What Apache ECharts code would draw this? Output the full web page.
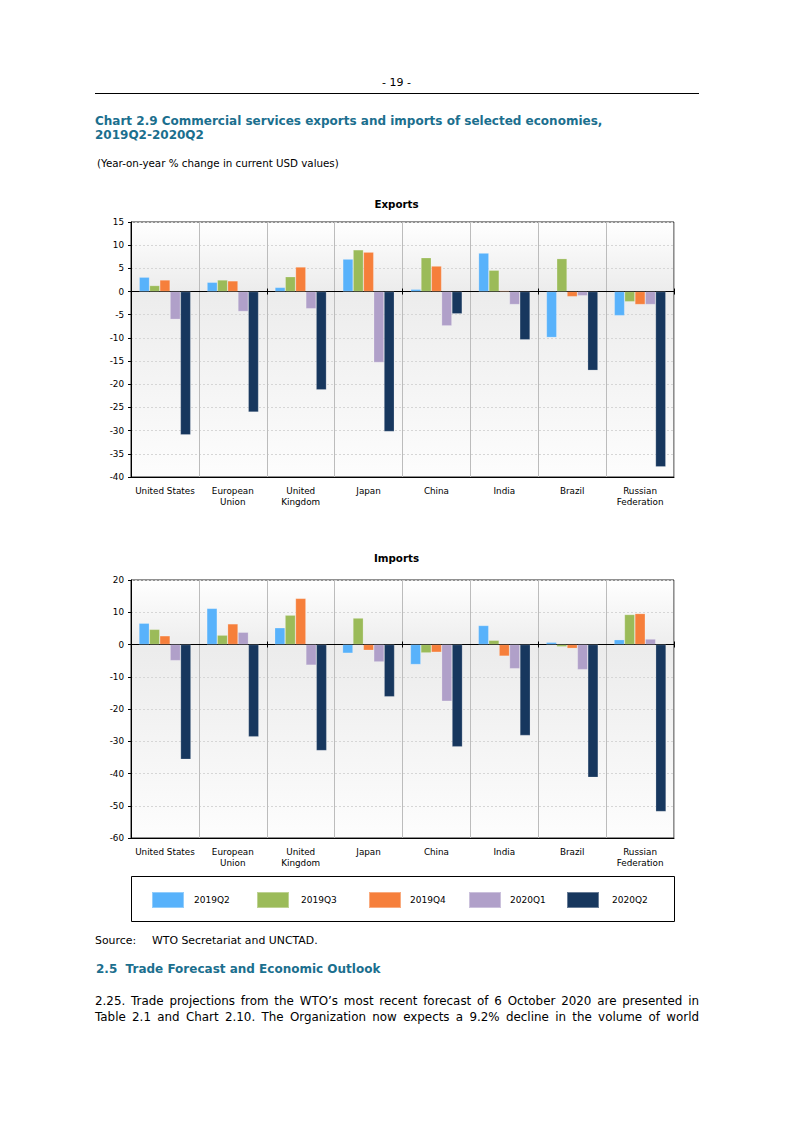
<!DOCTYPE html>
<html><head><meta charset="utf-8">
<script src="https://cdn.jsdelivr.net/npm/echarts@6/dist/echarts.min.js"></script>
<style>
html,body{margin:0;padding:0;background:#fff;}
#page{position:relative;width:793px;height:1122px;overflow:hidden;font-family:"DejaVu Sans",Verdana,sans-serif;color:#000;}
#chart{position:absolute;left:0;top:0;width:793px;height:1122px;}
.t{position:absolute;white-space:nowrap;}
.teal{color:#1b6f8e;font-weight:bold;}
.j{position:absolute;left:95px;width:604px;text-align:justify;text-align-last:justify;font-size:11.9px;white-space:nowrap;}
</style></head>
<body><div id="page">
<div id="chart"></div>
<div class="t" style="left:0;width:793px;text-align:center;top:76px;font-size:11px;">- 19 -</div>
<div style="position:absolute;left:95px;top:93px;width:604px;height:1px;background:#000;"></div>
<div class="t teal" style="left:95px;top:114px;font-size:12px;line-height:14px;">Chart 2.9 Commercial services exports and imports of selected economies,<br>2019Q2-2020Q2</div>
<div class="t" style="left:97px;top:157px;font-size:10.3px;">(Year-on-year % change in current USD values)</div>
<div class="t" style="left:95px;top:934px;font-size:10.9px;">Source:</div>
<div class="t" style="left:152px;top:934px;font-size:10.9px;">WTO Secretariat and UNCTAD.</div>
<div class="t teal" style="left:96px;top:962px;font-size:12px;">2.5&nbsp; Trade Forecast and Economic Outlook</div>
<div class="j" style="top:994px;">2.25. Trade projections from the WTO’s most recent forecast of 6 October 2020 are presented in</div>
<div class="j" style="top:1010px;">Table 2.1 and Chart 2.10. The Organization now expects a 9.2% decline in the volume of world</div>
</div>
<script>
const categories = ['United States','European\nUnion','United\nKingdom','Japan','China','India','Brazil','Russian\nFederation'];
const seriesNames = ['2019Q2','2019Q3','2019Q4','2020Q1','2020Q2'];
const exp2019Q2 = [3.1, 2.0, 0.9, 7.0, 0.5, 8.3, -9.9, -5.2];
const exp2019Q3 = [1.3, 2.5, 3.2, 9.0, 7.3, 4.6, 7.1, -2.2];
const exp2019Q4 = [2.5, 2.3, 5.3, 8.5, 5.5, 0.2, -1.1, -2.8];
const exp2020Q1 = [-6.0, -4.3, -3.7, -15.3, -7.4, -2.8, -0.9, -2.8];
const exp2020Q2 = [-30.9, -26.0, -21.2, -30.2, -4.8, -10.4, -17.0, -37.8];
const imp2019Q2 = [6.6, 11.2, 5.2, -2.7, -6.2, 5.9, 0.7, 1.5];
const imp2019Q3 = [4.7, 2.9, 9.1, 8.2, -2.6, 1.3, -0.7, 9.3];
const imp2019Q4 = [2.7, 6.4, 14.3, -1.8, -2.4, -3.6, -1.2, 9.6];
const imp2020Q1 = [-5.0, 3.8, -6.4, -5.4, -17.6, -7.5, -7.8, 1.7];
const imp2020Q2 = [-35.6, -28.6, -32.9, -16.2, -31.7, -28.2, -41.2, -51.8];
const expTicks = {min: -40, max: 15, interval: 5};
const impTicks = {min: -60, max: 20, interval: 10};
const colors = ['#58b2fb', '#9bbb59', '#f67f3b', '#b0a0c9', '#17375e'];

const FONT = 'DejaVu Sans';
const chart = echarts.init(document.getElementById('chart'), null, {renderer: 'svg'});
const bg = {type:'linear', x:0, y:0, x2:0, y2:1, colorStops:[
  {offset:0, color:'#ffffff'}, {offset:0.27, color:'#ececec'}, {offset:1, color:'#fdfdfd'}]};

function grid(top, height){
  return {left:131, top:top, width:543, height:height, show:true, backgroundColor:bg,
          borderColor:'#222', borderWidth:1, containLabel:false};
}
function labelAxis(g){
  return {type:'category', gridIndex:g, data:categories, position:'bottom',
    axisLine:{onZero:false, lineStyle:{color:'#000', width:1}},
    axisTick:{show:false},
    axisLabel:{fontFamily:FONT, fontSize:8.8, color:'#000', interval:0, lineHeight:11, margin:8},
    splitLine:{show:true, lineStyle:{color:'#bcbcbc', width:1}}};
}
function zeroAxis(g, yIdx, inside){
  return {type:'category', gridIndex:g, data:categories, position:'bottom',
    axisLine:{onZero:true, onZeroAxisIndex:yIdx, lineStyle:{color:'#000', width:1.2}},
    axisTick:{show:true, inside:inside, length:3, lineStyle:{color:'#000'}},
    axisLabel:{show:false}, splitLine:{show:false}};
}
function valAxis(g, t){
  return {type:'value', gridIndex:g, min:t.min, max:t.max, interval:t.interval,
    axisLine:{show:true, lineStyle:{color:'#000', width:1}},
    axisTick:{show:true, length:3, lineStyle:{color:'#000'}},
    axisLabel:{fontFamily:FONT, fontSize:8.8, color:'#000', margin:7},
    splitLine:{show:true, lineStyle:{color:'#d6d6d6', type:[2,2], width:1}}};
}
const expData = [exp2019Q2, exp2019Q3, exp2019Q4, exp2020Q1, exp2020Q2];
const impData = [imp2019Q2, imp2019Q3, imp2019Q4, imp2020Q1, imp2020Q2];
const series = [];
seriesNames.forEach((n,i)=>{
  series.push({name:n, type:'bar', xAxisIndex:0, yAxisIndex:0, data:expData[i], barWidth:10.3, barGap:'0%',
    itemStyle:{color:colors[i], borderColor:'rgba(255,255,255,0.35)', borderWidth:0.6}});
});
seriesNames.forEach((n,i)=>{
  series.push({name:n, type:'bar', xAxisIndex:3, yAxisIndex:1, data:impData[i], barWidth:10.4, barGap:'0%',
    itemStyle:{color:colors[i], borderColor:'rgba(255,255,255,0.35)', borderWidth:0.6}});
});
const legendX = [151, 256, 368, 468, 566];
const legendGap = [10, 12, 9, 9, 13];
const legends = seriesNames.map((n,i)=>({
  data:[n], left:legendX[i]-5, top:886, icon:'rect', itemWidth:32, itemHeight:16,
  textStyle:{fontFamily:FONT, fontSize:9, color:'#000', padding:[i===1?4:0,0,0,legendGap[i]-5]},
  selectedMode:false
}));
chart.setOption({
  animation:false,
  color:colors,
  title:[
    {text:'Exports', left:'center', top:194, textStyle:{fontFamily:FONT, fontSize:10.3, fontWeight:'bold', color:'#000'}},
    {text:'Imports', left:'center', top:548, textStyle:{fontFamily:FONT, fontSize:10.3, fontWeight:'bold', color:'#000'}}
  ],
  legend:legends,
  grid:[grid(222,255), grid(580,258)],
  xAxis:[labelAxis(0), zeroAxis(0,0,false), zeroAxis(0,0,true), labelAxis(1), zeroAxis(1,1,false), zeroAxis(1,1,true)],
  yAxis:[valAxis(0, expTicks), valAxis(1, impTicks)],
  series:series,
  graphic:[{type:'rect', shape:{x:131.5, y:876.5, width:543, height:45}, style:{fill:'none', stroke:'#000', lineWidth:1}, z:-1}]
});
</script>
</body></html>
